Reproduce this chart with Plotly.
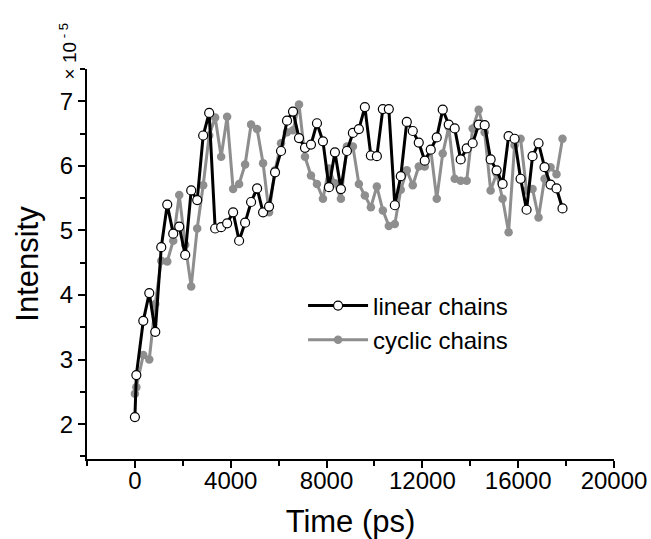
import plotly.graph_objects as go

time_ps = [0, 60, 350, 600, 850, 1100, 1350, 1600, 1850, 2100, 2350, 2600, 2850, 3100,
           3350, 3600, 3850, 4100, 4350, 4600, 4850, 5100, 5350, 5600, 5850, 6100, 6350,
           6600, 6850, 7100, 7350, 7600, 7850, 8100, 8350, 8600, 8850, 9100, 9350, 9600,
           9850, 10100, 10350, 10600, 10850, 11100, 11350, 11600, 11850, 12100, 12350,
           12600, 12850, 13100, 13350, 13600, 13850, 14100, 14350, 14600, 14850, 15100,
           15350, 15600, 15850, 16100, 16350, 16600, 16850, 17100, 17350, 17600, 17850]

linear_chains = [2.11, 2.76, 3.60, 4.03, 3.43, 4.74, 5.40, 4.95, 5.06, 4.62,
                 5.62, 5.47, 6.47, 6.82, 5.03, 5.05, 5.11, 5.28, 4.84, 5.12,
                 5.44, 5.65, 5.28, 5.37, 5.90, 6.23, 6.70, 6.84, 6.43, 6.28,
                 6.33, 6.66, 6.38, 5.67, 6.21, 5.64, 6.23, 6.51, 6.57, 6.91,
                 6.16, 6.15, 6.88, 6.88, 5.39, 5.84, 6.68, 6.54, 6.36, 6.08,
                 6.25, 6.44, 6.87, 6.64, 6.58, 6.10, 6.27, 6.35, 6.64, 6.63,
                 6.10, 5.93, 5.72, 6.46, 6.42, 5.80, 5.32, 6.15, 6.35, 5.98,
                 5.71, 5.65, 5.34]

cyclic_chains = [2.47, 2.57, 3.07, 3.00, 3.86, 4.53, 4.52, 4.84, 5.55, 4.78,
                 4.13, 5.03, 5.70, 6.47, 6.75, 6.14, 6.76, 5.64, 5.72, 6.02,
                 6.64, 6.57, 6.04, 5.28, 5.93, 6.35, 6.52, 6.55, 6.95, 6.14,
                 5.85, 5.72, 5.49, 5.96, 5.73, 5.49, 6.30, 6.30, 5.72, 5.54,
                 5.36, 5.68, 5.31, 5.07, 5.10, 5.63, 5.93, 5.70, 5.99, 5.99,
                 6.25, 5.49, 6.19, 6.60, 5.80, 5.77, 5.77, 6.58, 6.87, 6.52,
                 5.62, 5.88, 5.49, 4.97, 6.32, 6.42, 5.62, 5.64, 5.20, 5.80,
                 5.98, 5.87, 6.42]

FONT = "Liberation Sans, Arial, sans-serif"
GRAY = "#8e8e8e"

fig = go.Figure()
fig.add_trace(go.Scatter(
    x=time_ps, y=cyclic_chains, name="cyclic chains", mode="lines+markers",
    line=dict(color=GRAY, width=3),
    marker=dict(symbol="circle", size=8.5, color=GRAY, line=dict(width=0)),
))
fig.add_trace(go.Scatter(
    x=time_ps, y=linear_chains, name="linear chains", mode="lines+markers",
    line=dict(color="black", width=3),
    marker=dict(symbol="circle", size=9, color="white", line=dict(color="black", width=1.2)),
))

fig.update_layout(
    width=651, height=539,
    margin=dict(l=87, r=37, t=69, b=80),
    paper_bgcolor="white", plot_bgcolor="white",
    font=dict(family=FONT, size=24, color="black"),
    showlegend=True,
    legend=dict(x=0.41, y=0.45, xanchor="left", yanchor="top",
                traceorder="reversed", bgcolor="rgba(0,0,0,0)",
                font=dict(size=24, family=FONT), itemwidth=60,
                tracegroupgap=0),
    xaxis=dict(range=[-2000, 20000], tick0=0, dtick=4000, tickformat="d",
               automargin=False,
               showgrid=False, zeroline=False,
               showline=True, linecolor="black", linewidth=2,
               ticks="outside", ticklen=7, tickwidth=2, tickcolor="black",
               ticklabelstandoff=-8,
               tickfont=dict(size=24, family=FONT),
               minor=dict(tick0=0, dtick=2000, ticks="outside", ticklen=5, tickwidth=2,
                          tickcolor="black", showgrid=False),
               title=dict(text="Time (ps)", font=dict(size=31, family=FONT), standoff=18)),
    yaxis=dict(range=[1.46, 7.5], tick0=0, dtick=1, showgrid=False, zeroline=False,
               automargin=False,
               showline=True, linecolor="black", linewidth=2,
               ticks="outside", ticklen=7, tickwidth=2, tickcolor="black",
               tickfont=dict(size=24, family=FONT),
               minor=dict(tick0=0, dtick=0.5, ticks="outside", ticklen=5, tickwidth=2,
                          tickcolor="black", showgrid=False),
               title=dict(text="Intensity", font=dict(size=31, family=FONT), standoff=12)),
    annotations=[dict(text="× 10<sup> - 5</sup>", xref="paper", yref="paper",
                      x=-0.036, y=1.045, textangle=-90, showarrow=False,
                      xanchor="center", yanchor="middle",
                      font=dict(size=19, family=FONT, color="black"))],
)

fig.write_html("out.html")
